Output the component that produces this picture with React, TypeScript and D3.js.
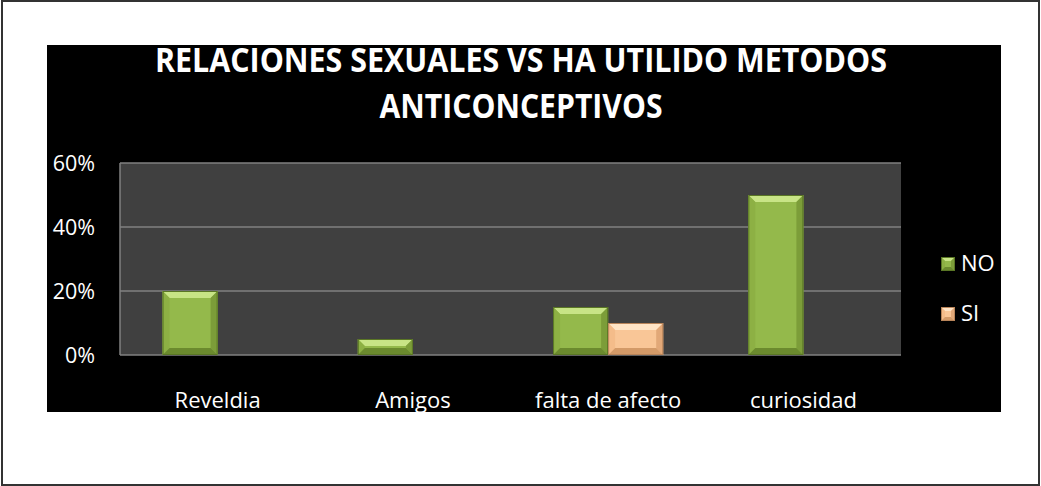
import React from "react";
import * as d3 from "d3";

const categories = ["Reveldia", "Amigos", "falta de afecto", "curiosidad"];
const seriesNames = ["NO", "SI"];
const valuesNO = [0.2, 0.05, 0.15, 0.5];
const valuesSI = [0, 0, 0.1, 0];
const yTicks = [0, 0.2, 0.4, 0.6];
const titleLines = ["RELACIONES SEXUALES VS HA UTILIDO METODOS", "ANTICONCEPTIVOS"];

const palettes: Record<string, { face: string; top: string; left: string; right: string; bottom: string; edge: string }> = {
  NO: { face: "#94b94b", top: "#c8e486", left: "#8db044", right: "#7c9d39", bottom: "#6b8a2e", edge: "#5a7625" },
  SI: { face: "#f9c697", top: "#ffe4c6", left: "#f4bc8a", right: "#e2a878", bottom: "#d39a68", edge: "#b9855a" },
};

function BevelRect({ x, y, w, h, name, b0 }: { x: number; y: number; w: number; h: number; name: string; b0: number }) {
  if (h <= 0) return null;
  const p = palettes[name];
  const b = Math.min(b0, h / 2, w / 2);
  const pts = (a: number[][]) => a.map((q) => q.join(",")).join(" ");
  return (
    <g>
      <rect x={x} y={y} width={w} height={h} fill={p.face} />
      <polygon points={pts([[x, y], [x + w, y], [x + w - b, y + b], [x + b, y + b]])} fill={p.top} />
      <polygon points={pts([[x, y], [x + b, y + b], [x + b, y + h - b], [x, y + h]])} fill={p.left} />
      <polygon points={pts([[x + w, y], [x + w - b, y + b], [x + w - b, y + h - b], [x + w, y + h]])} fill={p.right} />
      <polygon points={pts([[x, y + h], [x + b, y + h - b], [x + w - b, y + h - b], [x + w, y + h]])} fill={p.bottom} />
      <rect x={x + 0.5} y={y + 0.5} width={w - 1} height={h - 1} fill="none" stroke={p.edge} strokeWidth={1} />
    </g>
  );
}

export default function App() {
  const W = 1041;
  const H = 486;
  const plot = { left: 120, right: 901, top: 163, bottom: 355 };
  const y = d3.scaleLinear().domain([0, 0.6]).range([plot.bottom, plot.top]);
  const x0 = d3.scaleBand<string>().domain(categories).range([plot.left, plot.right]).paddingInner(0.436).paddingOuter(0.218);
  const x1 = d3.scaleBand<string>().domain(seriesNames).range([0, x0.bandwidth()]);
  const seriesValues: Record<string, number[]> = { NO: valuesNO, SI: valuesSI };
  const font = "'Open Sans', 'DejaVu Sans', sans-serif";

  return (
    <svg width={W} height={H} style={{ position: "absolute", left: 0, top: 0 }} fontFamily={font}>
      <rect x={0} y={0} width={W} height={H} fill="#ffffff" />
      <rect x={2} y={1} width={1037} height={484} fill="none" stroke="#333333" strokeWidth={2} />
      <rect x={47} y={45} width={954} height={367} fill="#000000" />
      <clipPath id="blk">
        <rect x={47} y={45} width={954} height={367} />
      </clipPath>
      <g clipPath="url(#blk)">
        <text x={521} y={72} textAnchor="middle" fill="#ffffff" fontWeight="bold" fontSize={34} textLength={732} lengthAdjust="spacingAndGlyphs">
          {titleLines[0]}
        </text>
        <text x={521} y={118} textAnchor="middle" fill="#ffffff" fontWeight="bold" fontSize={34} textLength={283} lengthAdjust="spacingAndGlyphs">
          {titleLines[1]}
        </text>
      </g>
      <rect x={plot.left} y={plot.top} width={plot.right - plot.left} height={plot.bottom - plot.top} fill="#404040" />
      {yTicks.map((t) => (
        <line key={t} x1={plot.left} x2={plot.right} y1={y(t)} y2={y(t)} stroke="#808080" strokeWidth={1.5} />
      ))}
      <line x1={plot.left} x2={plot.left} y1={plot.top} y2={plot.bottom} stroke="#808080" strokeWidth={1.5} />
      {yTicks.map((t) => (
        <text key={"l" + t} x={95} y={y(t)} dy="0.36em" textAnchor="end" fill="#ffffff" fontSize={21.5}>
          {d3.format(".0%")(t)}
        </text>
      ))}
      {categories.map((c, i) => (
        <g key={c}>
          {seriesNames.map((s) => {
            const v = seriesValues[s][i];
            const bx = (x0(c) as number) + (x1(s) as number);
            return <BevelRect key={s} x={bx} y={y(v)} w={x1.bandwidth()} h={y(0) - y(v)} name={s} b0={7} />;
          })}
          <text x={(x0(c) as number) + x0.bandwidth() / 2} y={408} textAnchor="middle" fill="#ffffff" fontSize={22}>
            {c}
          </text>
        </g>
      ))}
      {seriesNames.map((s, i) => (
        <g key={"lg" + s}>
          <BevelRect x={941} y={257 + i * 50} w={14} h={14} name={s} b0={4} />
          <text x={961} y={271 + i * 50} fill="#ffffff" fontSize={22}>
            {s}
          </text>
        </g>
      ))}
    </svg>
  );
}
